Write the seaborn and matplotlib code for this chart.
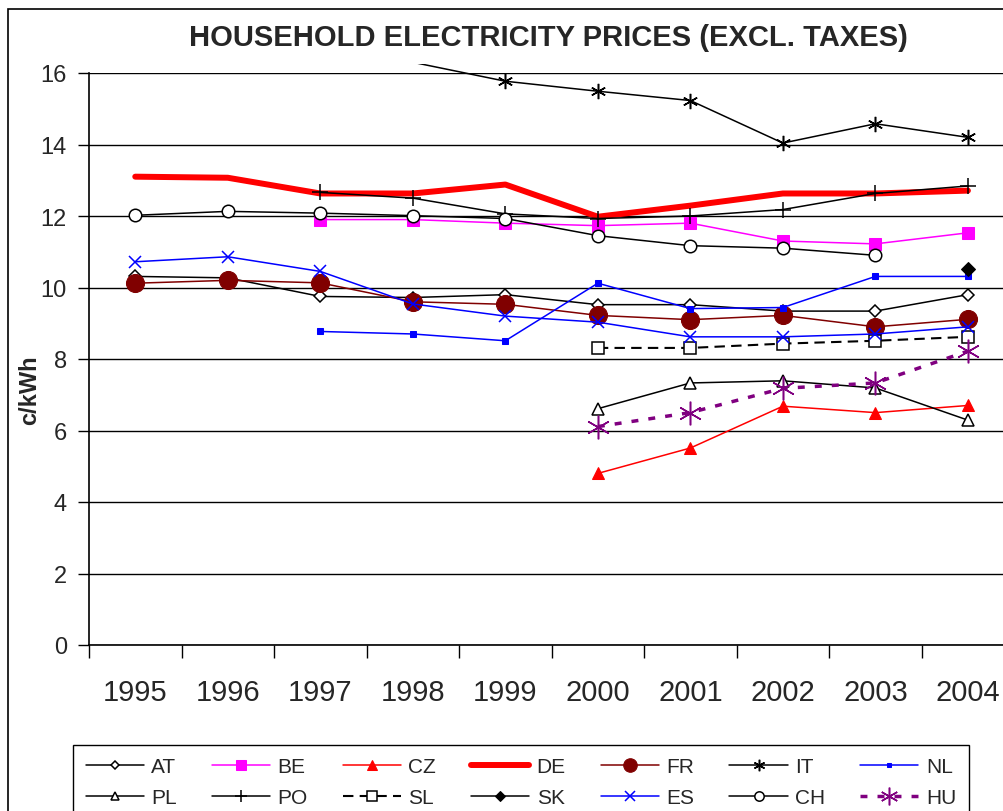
import numpy as np
import pandas as pd
import matplotlib
matplotlib.use("Agg")
import matplotlib.pyplot as plt
import matplotlib.patches as mpatches
from matplotlib.transforms import Bbox, TransformedBbox
import seaborn as sns

# --- data (c/kWh) ---
years = [1995, 1996, 1997, 1998, 1999, 2000, 2001, 2002, 2003, 2004]
nan = np.nan
at = [10.31, 10.27, 9.75, 9.72, 9.80, 9.52, 9.52, 9.34, 9.34, 9.80]
be = [nan, nan, 11.90, 11.90, 11.80, 11.73, 11.80, 11.30, 11.22, 11.53]
cz = [nan, nan, nan, nan, nan, 4.80, 5.51, 6.68, 6.50, 6.70]
de = [13.10, 13.07, 12.63, 12.63, 12.88, 11.98, 12.29, 12.63, 12.63, 12.71]
fr = [10.12, 10.20, 10.13, 9.60, 9.53, 9.22, 9.10, 9.22, 8.90, 9.11]
it = [nan, nan, nan, 16.30, 15.77, 15.49, 15.23, 14.04, 14.58, 14.20]
nl = [nan, nan, 8.77, 8.70, 8.51, 10.12, 9.41, 9.44, 10.31, 10.31]
pl = [nan, nan, nan, nan, nan, 6.61, 7.33, 7.39, 7.19, 6.29]
po = [nan, nan, 12.66, 12.50, 12.06, 11.93, 12.00, 12.18, 12.63, 12.84]
sl = [nan, nan, nan, nan, nan, 8.31, 8.31, 8.43, 8.51, 8.62]
sk = [nan, nan, nan, nan, nan, nan, nan, nan, nan, 10.51]
es = [10.72, 10.86, 10.45, 9.54, 9.20, 9.03, 8.62, 8.62, 8.70, 8.90]
ch = [12.02, 12.13, 12.08, 12.01, 11.93, 11.45, 11.17, 11.10, 10.90, nan]
hu = [nan, nan, nan, nan, nan, 6.11, 6.50, 7.18, 7.33, 8.22]

series = {"AT": at, "BE": be, "CZ": cz, "DE": de, "FR": fr, "IT": it, "NL": nl,
          "PL": pl, "PO": po, "SL": sl, "SK": sk, "ES": es, "CH": ch, "HU": hu}

# line / marker styles per country
styles = {
    "AT": dict(color="black", lw=1.1, marker="D", ms=6, mfc="white", mec="black", mew=1.1),
    "BE": dict(color="#FF00FF", lw=1.1, marker="s", ms=9, mfc="#FF00FF", mec="#FF00FF"),
    "CZ": dict(color="red", lw=1.1, marker="^", ms=9, mfc="red", mec="red"),
    "DE": dict(color="red", lw=4.3, marker=None),
    "FR": dict(color="#800000", lw=1.1, marker="o", ms=13, mfc="#800000", mec="#800000"),
    # first IT point sits above the plot: no marker there
    "IT": dict(color="black", lw=1.1, marker=(6, 2, 0), ms=11, mec="black", mew=1.1,
               markevery=list(range(1, 7))),
    "NL": dict(color="blue", lw=1.1, marker="s", ms=4, mfc="blue", mec="blue"),
    "PL": dict(color="black", lw=1.1, marker="^", ms=8, mfc="white", mec="black", mew=1.1),
    "PO": dict(color="black", lw=1.1, marker="+", ms=11, mec="black", mew=1.1),
    "SL": dict(color="black", lw=1.5, ls=(0, (5, 3)), marker="s", ms=9, mfc="white", mec="black", mew=1.1),
    "SK": dict(color="black", lw=1.1, marker="D", ms=7, mfc="black", mec="black"),
    "ES": dict(color="blue", lw=1.1, marker="x", ms=9, mec="blue", mew=1.1),
    "CH": dict(color="black", lw=1.1, marker="o", ms=9, mfc="white", mec="black", mew=1.1),
    "HU": dict(color="#800080", lw=2.5, ls=(0, (2, 2.9)), marker=(6, 2, 0), ms=17, mec="#800080", mew=1.1),
}

sns.set_theme(style="white")
plt.rcParams["font.family"] = ["Liberation Sans", "DejaVu Sans"]

fig = plt.figure(figsize=(10.04, 8.12), dpi=100)
ax = fig.add_axes([89 / 1004, (812 - 646) / 812, 915 / 1004, (646 - 74) / 812])

for name, vals in series.items():
    df = pd.DataFrame({"year": years, "value": vals}).dropna()
    st = dict(styles[name])
    ls = st.pop("ls", "-")
    sns.lineplot(data=df, x="year", y="value", ax=ax, label=name,
                 linestyle=ls, estimator=None, sort=False, **st)

ax.set_yticks(np.arange(0, 17, 2))
ax.set_xticks(years)
ax.set_xticks(np.arange(1994.5, 2004.4, 1), minor=True)
ax.set_xlim(1994.5, 2004.39)
ax.set_ylim(0, 16)

# IT runs a little past the top of the plot, like the original
it_line = ax.lines[list(series).index("IT")]
it_line.set_clip_box(TransformedBbox(Bbox([[1994.5, 0], [2006, 16.24]]), ax.transData))

ax.tick_params(axis="x", which="major", length=0, pad=24, labelsize=21)
ax.tick_params(axis="x", which="minor", length=9, width=1, color="black", direction="out", bottom=True)
ax.tick_params(axis="y", length=8, width=1, color="black", direction="out", left=True, pad=8, labelsize=17)
ax.yaxis.grid(True, color="black", lw=1)
ax.set_axisbelow(True)
for side in ["top", "right"]:
    ax.spines[side].set_visible(False)
for side in ["left", "bottom"]:
    ax.spines[side].set_color("black")
    ax.spines[side].set_linewidth(1.2)
ax.set_xlabel("")
ax.set_ylabel("")

fig.text(548 / 1004, 1 - 38 / 812, "HOUSEHOLD ELECTRICITY PRICES (EXCL. TAXES)",
         ha="center", va="center", fontsize=21, fontweight="bold")
fig.text(30 / 1004, 1 - 390 / 812, "c/kWh", rotation=90, ha="center", va="center",
         fontsize=17, fontweight="bold")

# chart border
fig.patches.append(mpatches.Rectangle((8 / 1004, -0.1), 2, 1 - 10 / 812 + 0.1,
                                      transform=fig.transFigure, fill=False,
                                      edgecolor="black", lw=1.2))

handles, labels = ax.get_legend_handles_labels()
ax.get_legend().remove()
order = ["AT", "PL", "BE", "PO", "CZ", "SL", "DE", "SK", "FR", "ES", "IT", "CH", "NL", "HU"]
hmap = dict(zip(labels, handles))
leg = fig.legend([hmap[k] for k in order], order, ncol=7, loc="upper left",
                 bbox_to_anchor=(73 / 1004, 1 - 746 / 812), fontsize=15,
                 frameon=True, fancybox=False, edgecolor="black", framealpha=1,
                 handlelength=2.8, handletextpad=0.35, columnspacing=1.68,
                 borderpad=0.6, labelspacing=0.55, borderaxespad=0, markerscale=0.75)
leg.get_frame().set_linewidth(1.0)

fig.savefig("out.png", dpi=100)
